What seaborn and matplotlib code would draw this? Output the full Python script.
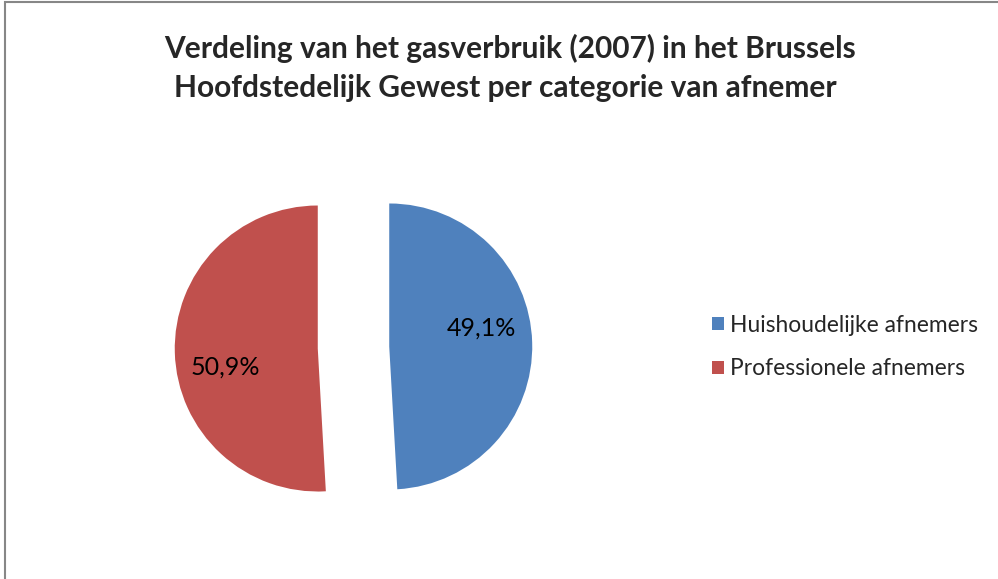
import numpy as np
import matplotlib
matplotlib.use("Agg")
import matplotlib.pyplot as plt
from matplotlib.patches import Patch, Rectangle
import seaborn as sns

# ---- data ----
categories = ["Huishoudelijke afnemers", "Professionele afnemers"]
values = [49.1, 50.9]
colors = ["#4F81BD", "#C0504D"]
title_lines = ["Verdeling van het gasverbruik (2007) in het Brussels",
               "Hoofdstedelijk Gewest per categorie van afnemer"]

sns.set_theme(style="white")
plt.rcParams["font.family"] = ["Lato", "DejaVu Sans"]

W, H = 998, 579
fig = plt.figure(figsize=(W / 100, H / 100), dpi=100)
fig.patch.set_facecolor("white")

# pie geometry in pixels
cx, cy, R = 353.5, 347.5, 143.0
ax = fig.add_axes([0, 0, 1, 1])
wedges, texts, autotexts = ax.pie(
    values, colors=colors, startangle=90, counterclock=False,
    explode=[0.25, 0.25], autopct=lambda p: f"{p:.1f}%".replace(".", ","),
    pctdistance=0.66, textprops=dict(fontsize=18, color="black"),
    wedgeprops=dict(linewidth=0))
ax.set_xlim(-cx / R, (W - cx) / R)
ax.set_ylim(-(H - cy) / R, cy / R)
ax.set_aspect("auto")
ax.axis("off")

# shift labels slightly counter-clockwise from the bisector (as in the reference)
for w, t in zip(wedges, autotexts):
    mid = np.deg2rad((w.theta1 + w.theta2) / 2 + 9.5)
    c = w.center
    t.set_position((c[0] + 0.66 * np.cos(mid), c[1] + 0.66 * np.sin(mid)))
    t.set_ha("center"); t.set_va("center")

fig.text(510.5 / W, 1 - 48 / H, title_lines[0], ha="center", va="center",
         fontsize=21.5, fontweight="bold")
fig.text(505 / W, 1 - 87.5 / H, title_lines[1], ha="center", va="center",
         fontsize=21.5, fontweight="bold")

handles = [Patch(facecolor=c, edgecolor="none") for c in colors]
fig.legend(handles, categories, loc="center left",
           bbox_to_anchor=(712 / W, 1 - 347 / H), frameon=False,
           fontsize=16.4, handlelength=0.53, handleheight=0.53,
           handletextpad=0.28, labelspacing=1.0, borderaxespad=0,
           borderpad=0)

# outer chart border (cropped at right/bottom)
fig.add_artist(Rectangle((5 / W, -0.1), 1.2, 1 - 2 / H + 0.1,
                         transform=fig.transFigure, fill=False,
                         edgecolor="#878787", linewidth=1.5))

fig.savefig("out.png", dpi=100, facecolor="white")
